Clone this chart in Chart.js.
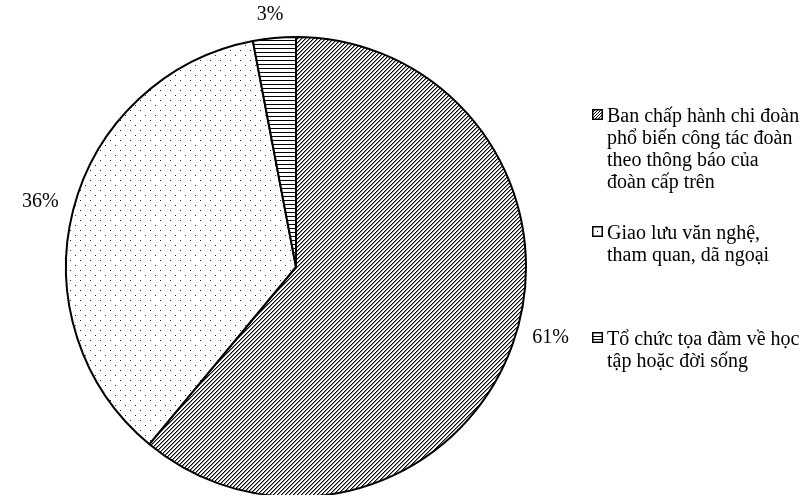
<!DOCTYPE html>
<html>
<head>
<meta charset="utf-8">
<script src="https://cdn.jsdelivr.net/npm/chart.js@4"></script>
<style>
  body { margin: 0; background: #fff; overflow: hidden; }
  #wrap { position: absolute; left: 0; top: 0; width: 810px; height: 500px; }
  .legend-item { position: absolute; left: 592px; font-family: "Liberation Serif", serif; font-size: 20px; line-height: 22px; color: #000; white-space: nowrap; }
  .legend-item canvas { position: absolute; left: 0; top: 5px; }
  .legend-item div { margin-left: 15px; }
</style>
</head>
<body>
<div id="wrap"><canvas id="chart"></canvas></div>
<div id="legend"></div>
<script>
// Data
const categories = [
  'Ban chấp hành chi đoàn phổ biến công tác đoàn theo thông báo của đoàn cấp trên',
  'Giao lưu văn nghệ, tham quan, dã ngoại',
  'Tổ chức tọa đàm về học tập hoặc đời sống'
];
const shares = [61, 36, 3];
const shareLabels = ['61%', '36%', '3%'];
const legendLines = [
  ['Ban chấp hành chi đoàn', 'phổ biến công tác đoàn', 'theo thông báo của', 'đoàn cấp trên'],
  ['Giao lưu văn nghệ,', 'tham quan, dã ngoại'],
  ['Tổ chức tọa đàm về học', 'tập hoặc đời sống']
];
const patternKinds = ['hatch', 'dots', 'hlines'];
const legendTops = [104, 221, 327];

// Patterns like the old office fills
function makeTile(kind) {
  const c = document.createElement('canvas');
  const ctx = c.getContext('2d');
  if (kind === 'hatch') {
    c.width = 4; c.height = 4;
    ctx.fillStyle = '#fff'; ctx.fillRect(0, 0, 4, 4);
    for (let i = 0; i < 4; i++) {
      ctx.fillStyle = '#000';
      ctx.fillRect(i, 3 - i, 1, 1);
      ctx.fillStyle = '#8a8a8a';
      ctx.fillRect(i, (4 - i) % 4, 1, 1);
    }
  } else if (kind === 'dots') {
    c.width = 10; c.height = 10;
    ctx.fillStyle = '#fff'; ctx.fillRect(0, 0, 10, 10);
    ctx.fillStyle = '#222';
    ctx.fillRect(0, 0, 1, 1);
    ctx.fillRect(5, 5, 1, 1);
  } else {
    c.width = 4; c.height = 4;
    ctx.fillStyle = '#fff'; ctx.fillRect(0, 0, 4, 4);
    ctx.fillStyle = '#000';
    ctx.fillRect(0, 0, 4, 1);
  }
  return c;
}

const patternCtx = document.createElement('canvas').getContext('2d');
const fills = patternKinds.map(k => patternCtx.createPattern(makeTile(k), 'repeat'));

// Outside percentage labels (nudge = small manual shift like the office "best fit")
const outsideLabels = {
  id: 'outsideLabels',
  afterDatasetsDraw(chart, args, opts) {
    const ctx = chart.ctx;
    const arcs = chart.getDatasetMeta(0).data;
    ctx.save();
    ctx.font = '20px "Liberation Serif", serif';
    ctx.fillStyle = '#000';
    ctx.textAlign = 'center';
    ctx.textBaseline = 'middle';
    arcs.forEach((arc, i) => {
      const p = arc.getProps(['x', 'y', 'startAngle', 'endAngle', 'outerRadius'], true);
      const mid = (p.startAngle + p.endAngle) / 2;
      const dx = Math.cos(mid), dy = Math.sin(mid);
      const w = ctx.measureText(shareLabels[i]).width;
      const h = 18;
      const dist = p.outerRadius + 14 + Math.abs(dx) * w / 2 + Math.abs(dy) * h / 2;
      const n = opts.nudge[i] || [0, 0];
      ctx.fillText(shareLabels[i], p.x + dx * dist + n[0], p.y + dy * dist + n[1]);
    });
    ctx.restore();
  }
};

new Chart(document.getElementById('chart'), {
  type: 'pie',
  data: {
    labels: categories,
    datasets: [{
      data: shares,
      backgroundColor: fills,
      borderColor: '#000',
      borderWidth: 2
    }]
  },
  options: {
    responsive: true,
    maintainAspectRatio: false,
    animation: false,
    layout: { padding: { left: 65, right: 283, top: 36, bottom: 2 } },
    plugins: {
      legend: { display: false },
      tooltip: { enabled: false },
      outsideLabels: { nudge: [[6, -19], [0, 0], [-2, 1]] }
    }
  },
  plugins: [outsideLabels]
});

// Legend
function drawSwatch(kind) {
  const c = document.createElement('canvas');
  c.width = 11; c.height = 11;
  const ctx = c.getContext('2d');
  ctx.fillStyle = '#fff';
  ctx.fillRect(0, 0, 11, 11);
  ctx.fillStyle = '#000';
  if (kind === 'hatch') {
    for (let s = 0; s < 22; s += 3) {
      for (let i = 0; i < 11; i++) {
        const y = s - i;
        if (y >= 0 && y < 11) ctx.fillRect(i, y, 1, 1);
      }
    }
  } else if (kind === 'dots') {
    ctx.fillRect(5, 5, 1, 1);
  } else {
    ctx.fillRect(1, 4, 9, 1);
    ctx.fillRect(1, 7, 9, 1);
  }
  ctx.strokeStyle = '#000';
  ctx.lineWidth = 1.5;
  ctx.strokeRect(0.75, 0.75, 9.5, 9.5);
  return c;
}

const legendEl = document.getElementById('legend');
legendLines.forEach((lines, i) => {
  const item = document.createElement('div');
  item.className = 'legend-item';
  item.style.top = legendTops[i] + 'px';
  item.appendChild(drawSwatch(patternKinds[i]));
  const text = document.createElement('div');
  text.innerHTML = lines.join('<br>');
  item.appendChild(text);
  legendEl.appendChild(item);
});
</script>
</body>
</html>
